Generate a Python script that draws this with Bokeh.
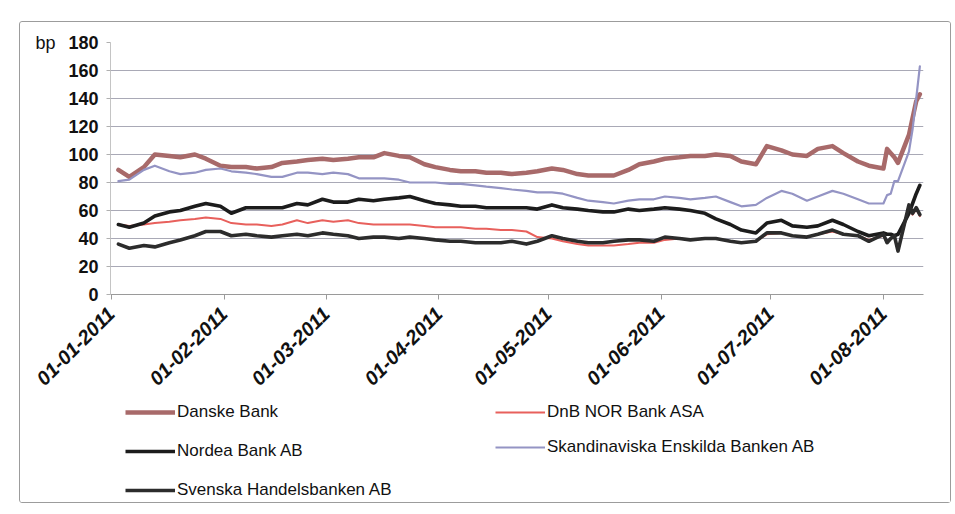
from math import pi
import pandas as pd
from bokeh.plotting import figure
from bokeh.layouts import column
from bokeh.models import (Range1d, FixedTicker, Legend, LegendItem,
                          DatetimeTickFormatter)
from bokeh.embed import file_html
from bokeh.resources import INLINE

# ---------------- data ----------------
dates = [
    "2011-01-03", "2011-01-06", "2011-01-10", "2011-01-13", "2011-01-17", "2011-01-20", "2011-01-24", "2011-01-27", "2011-01-31",
    "2011-02-03", "2011-02-07", "2011-02-10", "2011-02-14", "2011-02-17", "2011-02-21", "2011-02-24", "2011-02-28",
    "2011-03-03", "2011-03-07", "2011-03-10", "2011-03-14", "2011-03-17", "2011-03-21", "2011-03-24", "2011-03-28", "2011-03-31",
    "2011-04-04", "2011-04-07", "2011-04-11", "2011-04-14", "2011-04-18", "2011-04-21", "2011-04-25", "2011-04-28",
    "2011-05-02", "2011-05-05", "2011-05-09", "2011-05-12", "2011-05-16", "2011-05-19", "2011-05-23", "2011-05-26", "2011-05-30",
    "2011-06-02", "2011-06-06", "2011-06-09", "2011-06-13", "2011-06-16", "2011-06-20", "2011-06-23", "2011-06-27", "2011-06-30",
    "2011-07-04", "2011-07-07", "2011-07-11", "2011-07-14", "2011-07-18", "2011-07-21", "2011-07-25", "2011-07-28",
    "2011-08-01", "2011-08-02", "2011-08-03", "2011-08-04", "2011-08-05", "2011-08-08", "2011-08-09", "2011-08-10", "2011-08-11",
]

danske = [89, 84, 91, 100, 99, 98, 100, 97, 92,
          91, 91, 90, 91, 94, 95, 96, 97,
          96, 97, 98, 98, 101, 99, 98, 93, 91,
          89, 88, 88, 87, 87, 86, 87, 88,
          90, 89, 86, 85, 85, 85, 89, 93, 95,
          97, 98, 99, 99, 100, 99, 95, 93, 106,
          103, 100, 99, 104, 106, 101, 95, 92,
          90, 104, 101, 98, 94, 114, 126, 138, 143]

dnb = [50, 49, 50, 51, 52, 53, 54, 55, 54,
       51, 50, 50, 49, 50, 53, 51, 53,
       52, 53, 51, 50, 50, 50, 50, 49, 48,
       48, 48, 47, 47, 46, 46, 45, 41,
       40, 38, 36, 35, 35, 35, 36, 37, 37,
       39, 40, 39, 40, 40, 38, 37, 38, 43,
       44, 42, 41, 43, 45, 43, 42, 39,
       42, 38, 40, 41, 32, 62, 57, 61, 56]

nordea = [50, 48, 51, 56, 59, 60, 63, 65, 63,
          58, 62, 62, 62, 62, 65, 64, 68,
          66, 66, 68, 67, 68, 69, 70, 67, 65,
          64, 63, 63, 62, 62, 62, 62, 61,
          64, 62, 61, 60, 59, 59, 61, 60, 61,
          62, 61, 60, 58, 54, 50, 46, 44, 51,
          53, 49, 48, 49, 53, 50, 45, 42,
          44, 43, 43, 42, 43, 58, 65, 72, 78]

seb = [81, 82, 89, 92, 88, 86, 87, 89, 90,
       88, 87, 86, 84, 84, 87, 87, 86,
       87, 86, 83, 83, 83, 82, 80, 80, 80,
       79, 79, 78, 77, 76, 75, 74, 73,
       73, 72, 69, 67, 66, 65, 67, 68, 68,
       70, 69, 68, 69, 70, 66, 63, 64, 69,
       74, 72, 67, 70, 74, 72, 68, 65,
       65, 71, 72, 81, 81, 102, 118, 140, 163]

shb = [36, 33, 35, 34, 37, 39, 42, 45, 45,
       42, 43, 42, 41, 42, 43, 42, 44,
       43, 42, 40, 41, 41, 40, 41, 40, 39,
       38, 38, 37, 37, 37, 38, 36, 38,
       42, 40, 38, 37, 37, 38, 39, 39, 38,
       41, 40, 39, 40, 40, 38, 37, 38, 44,
       44, 42, 41, 43, 46, 43, 42, 38,
       43, 37, 40, 42, 31, 64, 58, 62, 57]

names = ["Danske Bank", "DnB NOR Bank ASA", "Nordea Bank AB",
         "Skandinaviska Enskilda Banken AB", "Svenska Handelsbanken AB"]

tick_dates = ["2011-01-01", "2011-02-01", "2011-03-01", "2011-04-01",
              "2011-05-01", "2011-06-01", "2011-07-01", "2011-08-01"]
tick_labels = ["01-01-2011", "01-02-2011", "01-03-2011", "01-04-2011",
               "01-05-2011", "01-06-2011", "01-07-2011", "01-08-2011"]
y_ticks = [0, 20, 40, 60, 80, 100, 120, 140, 160, 180]
y_unit = "bp"

# ---------------- main figure ----------------
FONT = "Liberation Sans"
W = 930

x = pd.to_datetime(dates)
x_start = pd.Timestamp("2010-12-31 20:00")
x_end = pd.Timestamp("2011-08-12")

p = figure(width=W, height=380, x_axis_type="datetime",
           x_range=Range1d(x_start, x_end), y_range=Range1d(0, 180),
           output_backend="svg", toolbar_location=None,
           min_border_left=90, min_border_right=27,
           min_border_top=20, min_border_bottom=108,
           background_fill_color="white", border_fill_color="white")
p.outline_line_color = None

line_style = {
    "Danske Bank": ("#a86a6a", 4.5),
    "DnB NOR Bank ASA": ("#e8605c", 2),
    "Nordea Bank AB": ("#1c1c1c", 3.6),
    "Skandinaviska Enskilda Banken AB": ("#9494c4", 2.2),
    "Svenska Handelsbanken AB": ("#2c2c2c", 3.6),
}
values = {"Danske Bank": danske, "DnB NOR Bank ASA": dnb, "Nordea Bank AB": nordea,
          "Skandinaviska Enskilda Banken AB": seb, "Svenska Handelsbanken AB": shb}

draw_order = ["Danske Bank", "DnB NOR Bank ASA", "Skandinaviska Enskilda Banken AB",
              "Nordea Bank AB", "Svenska Handelsbanken AB"]
for n in draw_order:
    c, w = line_style[n]
    p.line(x, values[n], line_color=c, line_width=w,
           line_join="round", line_cap="round")

# x axis
tick_ms = [pd.Timestamp(d).value // 10**6 for d in tick_dates]
p.xaxis.ticker = FixedTicker(ticks=tick_ms)
p.xaxis.formatter = DatetimeTickFormatter(days="%d-%m-%Y", months="%d-%m-%Y",
                                          years="%d-%m-%Y")
p.xaxis.major_label_overrides = {t: l for t, l in zip(tick_ms, tick_labels)}
p.xaxis.major_label_orientation = pi / 4
p.xaxis.major_label_text_font = FONT
p.xaxis.major_label_text_font_style = "bold italic"
p.xaxis.major_label_text_font_size = "20px"
p.xaxis.major_label_text_color = "#111111"
p.xaxis.major_label_standoff = 11
p.xaxis.axis_line_color = "#9a9a9a"
p.xaxis.major_tick_line_color = "#9a9a9a"
p.xaxis.major_tick_out = 5
p.xaxis.major_tick_in = 0
p.xaxis.minor_tick_line_color = None

# y axis
ya = p.yaxis[0]
ya.ticker = FixedTicker(ticks=y_ticks)
ya.major_label_text_font = FONT
ya.major_label_text_font_style = "bold"
ya.major_label_text_font_size = "18px"
ya.major_label_text_color = "#111111"
ya.major_label_standoff = 8
ya.axis_line_color = "#c4c4c4"
ya.major_tick_line_color = "#b0b0b0"
ya.major_tick_out = 4
ya.major_tick_in = 0
ya.minor_tick_line_color = None
ya.axis_label = y_unit
ya.axis_label_text_font = FONT
ya.axis_label_text_font_style = "normal"
ya.axis_label_text_font_size = "18px"
ya.axis_label_text_color = "#111111"
ya.axis_label_standoff = 10
props = ya.properties()
if "axis_label_orientation" in props:
    ya.axis_label_orientation = "horizontal"
if "axis_label_align" in props:
    ya.axis_label_align = "end"

p.xgrid.grid_line_color = None
p.ygrid.grid_line_color = "#a9a9b6"
p.ygrid.grid_line_width = 1

# ---------------- legend strip (two columns) ----------------
# frame of this strip is aligned with the main plot's frame by the column layout
q = figure(width=W, height=100, x_range=Range1d(0, 1), y_range=Range1d(0, 1),
           output_backend="svg", toolbar_location=None,
           x_axis_location=None, y_axis_location=None,
           min_border_left=0, min_border_right=0, min_border_top=0, min_border_bottom=0,
           background_fill_color="white", border_fill_color="white")
q.outline_line_color = None
q.xgrid.grid_line_color = None
q.ygrid.grid_line_color = None

# legend swatch renderers (their data lies far outside this strip's ranges)
swatch = {}
for n in names:
    c, w = line_style[n]
    swatch[n] = q.line(x, values[n], line_color=c, line_width=w)


def make_legend(items, loc, spacing):
    lg = Legend(items=[LegendItem(label=n, renderers=[swatch[n]]) for n in items],
                location=loc, orientation="vertical")
    lg.background_fill_alpha = 0
    lg.border_line_color = None
    lg.padding = 0
    lg.margin = 0
    lg.spacing = spacing
    lg.glyph_width = 50
    lg.glyph_height = 20
    lg.label_height = 20
    lg.label_standoff = 2
    lg.label_text_font = FONT
    lg.label_text_font_size = "17px"
    lg.label_text_color = "#111111"
    return lg


q.add_layout(make_legend(["Danske Bank", "Nordea Bank AB", "Svenska Handelsbanken AB"],
                         (15, 2), 19))
q.add_layout(make_legend(["DnB NOR Bank ASA", "Skandinaviska Enskilda Banken AB"],
                         (385, 45), 15))

layout = column(p, q, spacing=0,
                styles={"border": "1px solid #9c9c9c", "border-radius": "3px",
                        "margin-left": "19px", "margin-top": "21px"})

open("out.html", "w").write(file_html(layout, INLINE))
